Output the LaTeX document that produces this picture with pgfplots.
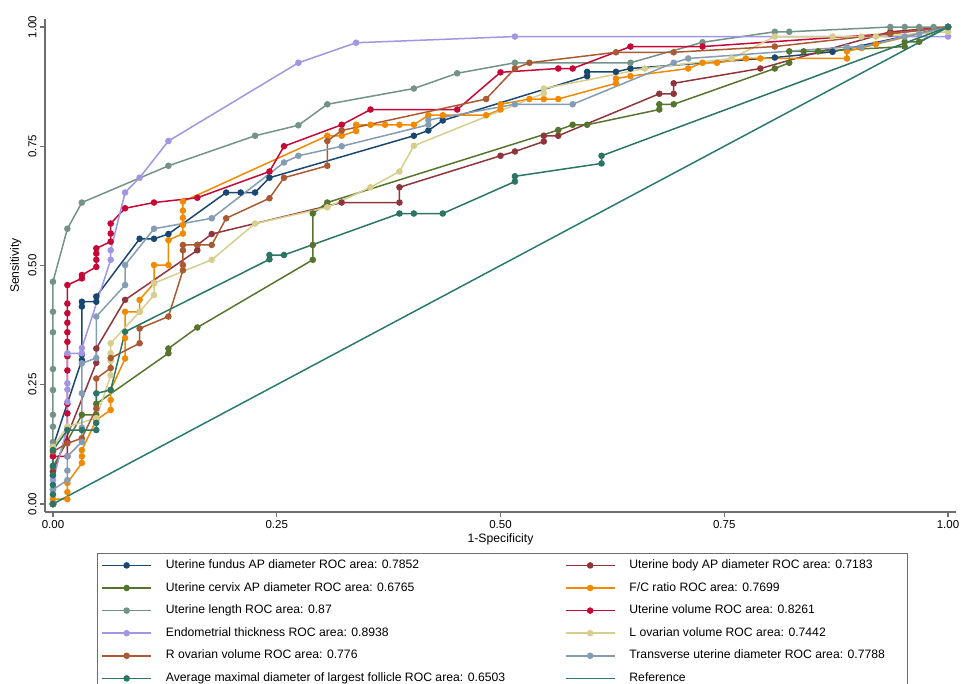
\documentclass[border=0pt]{standalone}
\usepackage{pgfplots}
\pgfplotsset{compat=1.18}
\usepackage{fontspec}
\setmainfont{Liberation Sans}
\definecolor{cnavy}{RGB}{26,71,111}
\definecolor{cmaroon}{RGB}{144,53,59}
\definecolor{cforest}{RGB}{85,117,47}
\definecolor{corange}{RGB}{240,138,0}
\definecolor{cteal}{RGB}{115,147,137}
\definecolor{ccran}{RGB}{198,8,55}
\definecolor{clav}{RGB}{160,150,225}
\definecolor{ckhaki}{RGB}{215,205,140}
\definecolor{csienna}{RGB}{170,90,50}
\definecolor{cemid}{RGB}{132,156,180}
\definecolor{cfoll}{RGB}{42,117,100}
\definecolor{cref}{RGB}{42,122,112}
\definecolor{caxis}{RGB}{110,110,110}
\pgfplotsset{
  rocs/.style={line width=1.5pt, color=#1, mark=*, mark size=2.5pt, mark options={solid, fill=#1, draw=#1}},
}
\begin{document}
\begin{tikzpicture}
\begin{axis}[
  at={(0pt,0pt)}, anchor=south west,
  scale only axis, width=911pt, height=493pt,
  xmin=-0.0089, xmax=1.0089, ymin=-0.0168, ymax=1.0168,
  axis x line*=bottom, axis y line*=left,
  axis line style={draw=caxis, line width=1.2pt, -},
  xtick={0,0.25,0.5,0.75,1}, ytick={0,0.25,0.5,0.75,1},
  tick align=outside, major tick length=5pt,
  tick style={draw=caxis, line width=1.2pt},
  /pgf/number format/assume math mode=true,
  xticklabel style={/pgf/number format/fixed, /pgf/number format/fixed zerofill, /pgf/number format/precision=2},
  yticklabel style={/pgf/number format/fixed, /pgf/number format/fixed zerofill, /pgf/number format/precision=2, rotate=90, anchor=south},
  tick label style={font=\fontsize{11.5}{13}\selectfont},
  label style={font=\fontsize{12.2}{14}\selectfont},
  xlabel={1-Specificity}, ylabel={Sensitivity},
  xlabel style={yshift=2pt},
  legend columns=2, legend cell align=left,
  legend style={at={(0.0571,-0.0832)}, anchor=north west, draw=caxis, line width=0.8pt,
    inner xsep=4pt, inner ysep=6pt, font=\fontsize{12.2}{14}\selectfont,
    column sep=14pt, row sep=10.6pt, nodes={inner sep=0pt, text height=9pt, text depth=3pt}},
  legend image code/.code={\draw[mark repeat=2,mark phase=2,#1] plot coordinates {(0pt,0pt) (24.5pt,0pt) (49pt,0pt)};},
]
% Uterine fundus AP
\addplot[rocs=cnavy] coordinates {(0,0) (0,0.12) (0.0323,0.302) (0.0323,0.313) (0.0323,0.414) (0.0323,0.424) (0.0484,0.424) (0.0484,0.435) (0.0968,0.556) (0.1129,0.556) (0.1290,0.566) (0.1935,0.653) (0.2097,0.653) (0.2258,0.653) (0.2419,0.684) (0.4032,0.772) (0.4194,0.783) (0.4355,0.804) (0.5968,0.897) (0.5968,0.906) (0.6290,0.906) (0.6452,0.913) (0.8065,0.936) (0.8710,0.948) (1,1)};
\addlegendentry{\makebox[385pt][l]{Uterine fundus AP diameter ROC area: 0.7852}}
% Uterine body AP
\addplot[rocs=cmaroon] coordinates {(0,0) (0,0.068) (0.0484,0.296) (0.0484,0.326) (0.0806,0.428) (0.1613,0.532) (0.1613,0.543) (0.1774,0.566) (0.3226,0.632) (0.3871,0.632) (0.3871,0.664) (0.5000,0.730) (0.5161,0.739) (0.5484,0.760) (0.5484,0.772) (0.5645,0.772) (0.6774,0.860) (0.6935,0.860) (0.6935,0.882) (0.7903,0.913) (0.9355,0.990) (1,1)};
\addlegendentry{\makebox[274pt][l]{Uterine body AP diameter ROC area: 0.7183}}
% Uterine cervix AP
\addplot[rocs=cforest] coordinates {(0,0) (0,0.078) (0.0323,0.187) (0.0484,0.187) (0.0484,0.210) (0.1290,0.316) (0.1290,0.326) (0.1613,0.370) (0.2903,0.512) (0.2903,0.543) (0.2903,0.609) (0.3065,0.632) (0.5645,0.784) (0.5806,0.795) (0.5968,0.795) (0.6774,0.827) (0.6774,0.838) (0.6935,0.838) (0.8065,0.913) (0.8226,0.925) (0.8226,0.949) (0.8387,0.949) (0.8548,0.949) (0.9516,0.959) (0.9516,0.969) (0.9677,0.969) (1,1)};
\addlegendentry{\makebox[385pt][l]{Uterine cervix AP diameter ROC area: 0.6765}}
% F/C ratio
\addplot[rocs=corange] coordinates {(0,0) (0,0.010) (0.0161,0.010) (0.0161,0.025) (0.0161,0.044) (0.0323,0.086) (0.0323,0.100) (0.0323,0.113) (0.0484,0.176) (0.0645,0.197) (0.0645,0.218) (0.0645,0.239) (0.0806,0.305) (0.0806,0.348) (0.0806,0.403) (0.0968,0.403) (0.0968,0.428) (0.1129,0.463) (0.1129,0.501) (0.1290,0.501) (0.1290,0.553) (0.1452,0.567) (0.1452,0.585) (0.1452,0.600) (0.1452,0.615) (0.1452,0.634) (0.3065,0.772) (0.3226,0.772) (0.3387,0.782) (0.3387,0.795) (0.3548,0.795) (0.3710,0.795) (0.3871,0.795) (0.4032,0.795) (0.4194,0.815) (0.4355,0.815) (0.4839,0.815) (0.5000,0.827) (0.5000,0.838) (0.5323,0.849) (0.5484,0.849) (0.5645,0.849) (0.6290,0.882) (0.6290,0.892) (0.6452,0.897) (0.7097,0.913) (0.7258,0.925) (0.7419,0.925) (0.7742,0.934) (0.7903,0.934) (0.8871,0.934) (0.8871,0.949) (0.9032,0.956) (0.9194,0.964) (1,1)};
\addlegendentry{\makebox[274pt][l]{F/C ratio ROC area: 0.7699}}
% Uterine length
\addplot[rocs=cteal] coordinates {(0,0) (0,0.03) (0,0.06) (0,0.10) (0,0.130) (0,0.162) (0,0.187) (0,0.239) (0,0.283) (0,0.360) (0,0.403) (0,0.466) (0.0161,0.577) (0.0323,0.632) (0.1290,0.709) (0.2258,0.772) (0.2742,0.794) (0.3065,0.838) (0.4032,0.871) (0.4516,0.903) (0.5161,0.925) (0.6452,0.925) (0.7258,0.968) (0.8065,0.990) (0.8226,0.990) (0.9355,1) (0.9516,1) (0.9677,1) (0.9839,1) (1,1)};
\addlegendentry{\makebox[385pt][l]{Uterine length ROC area: 0.87}}
% Uterine volume
\addplot[rocs=ccran] coordinates {(0,0) (0,0.10) (0.0161,0.10) (0.0161,0.13) (0.0161,0.16) (0.0161,0.19) (0.0161,0.21) (0.0161,0.28) (0.0161,0.31) (0.0161,0.34) (0.0161,0.36) (0.0161,0.38) (0.0161,0.40) (0.0161,0.42) (0.0161,0.459) (0.0323,0.473) (0.0323,0.480) (0.0484,0.497) (0.0484,0.512) (0.0484,0.525) (0.0484,0.536) (0.0645,0.550) (0.0645,0.567) (0.0645,0.588) (0.0806,0.620) (0.1129,0.632) (0.1613,0.642) (0.2419,0.697) (0.2581,0.750) (0.3226,0.795) (0.3548,0.827) (0.4516,0.827) (0.5000,0.905) (0.5645,0.913) (0.5806,0.913) (0.6452,0.959) (0.7258,0.959) (0.9355,0.986) (1,1)};
\addlegendentry{\makebox[274pt][l]{Uterine volume ROC area: 0.8261}}
% Endometrial thickness
\addplot[rocs=clav] coordinates {(0,0) (0,0.05) (0.0161,0.16) (0.0161,0.214) (0.0161,0.240) (0.0161,0.253) (0.0161,0.316) (0.0323,0.316) (0.0323,0.327) (0.0645,0.512) (0.0645,0.532) (0.0806,0.653) (0.0968,0.684) (0.1290,0.761) (0.2742,0.925) (0.3387,0.967) (0.5161,0.980) (1,0.980) (1,1)};
\addlegendentry{\makebox[385pt][l]{Endometrial thickness ROC area: 0.8938}}
% L ovarian volume
\addplot[rocs=ckhaki] coordinates {(0,0) (0,0.12) (0.0161,0.162) (0.0484,0.180) (0.0645,0.270) (0.0645,0.300) (0.0645,0.316) (0.0645,0.337) (0.0968,0.403) (0.1129,0.438) (0.1129,0.463) (0.1774,0.512) (0.2258,0.588) (0.3065,0.622) (0.3548,0.664) (0.3871,0.697) (0.4032,0.751) (0.5484,0.861) (0.5484,0.871) (0.6613,0.913) (0.7581,0.934) (0.8065,0.980) (0.8710,0.980) (0.9032,0.980) (0.9194,0.980) (1,0.990) (1,1)};
\addlegendentry{\makebox[274pt][l]{L ovarian volume ROC area: 0.7442}}
% R ovarian volume
\addplot[rocs=csienna] coordinates {(0,0) (0,0.110) (0.0161,0.127) (0.0323,0.138) (0.0484,0.200) (0.0484,0.263) (0.0645,0.285) (0.0645,0.306) (0.0968,0.337) (0.0968,0.368) (0.1290,0.393) (0.1452,0.490) (0.1452,0.501) (0.1452,0.532) (0.1452,0.543) (0.1613,0.543) (0.1774,0.543) (0.1935,0.599) (0.2419,0.641) (0.2581,0.684) (0.3065,0.709) (0.3065,0.761) (0.3226,0.783) (0.4839,0.849) (0.5161,0.913) (0.5323,0.925) (0.6290,0.947) (0.6935,0.947) (0.8065,0.959) (0.9355,0.986) (1,1)};
\addlegendentry{\makebox[385pt][l]{R ovarian volume ROC area: 0.776}}
% Transverse uterine diameter
\addplot[rocs=cemid] coordinates {(0,0) (0,0.030) (0.0161,0.050) (0.0161,0.070) (0.0161,0.100) (0.0323,0.130) (0.0323,0.160) (0.0323,0.232) (0.0323,0.295) (0.0484,0.306) (0.0484,0.393) (0.0806,0.459) (0.0806,0.501) (0.1129,0.577) (0.1774,0.599) (0.2581,0.716) (0.2742,0.730) (0.3226,0.750) (0.4194,0.795) (0.4194,0.805) (0.5161,0.838) (0.5806,0.838) (0.6935,0.925) (0.7097,0.934) (0.8871,0.958) (0.9032,0.958) (0.9516,0.980) (0.9677,0.986) (1,1)};
\addlegendentry{\makebox[274pt][l]{Transverse uterine diameter ROC area: 0.7788}}
% Average maximal diameter of largest follicle
\addplot[rocs=cfoll] coordinates {(0,0) (0,0.02) (0,0.04) (0,0.06) (0,0.08) (0,0.113) (0.0161,0.155) (0.0323,0.155) (0.0484,0.155) (0.0484,0.170) (0.0484,0.232) (0.0645,0.239) (0.0806,0.361) (0.2419,0.513) (0.2419,0.522) (0.2581,0.522) (0.3871,0.609) (0.4032,0.609) (0.4355,0.609) (0.5161,0.676) (0.5161,0.687) (0.6129,0.714) (0.6129,0.730) (1,1)};
\addlegendentry{\makebox[385pt][l]{Average maximal diameter of largest follicle ROC area: 0.6503}}
% Reference
\addplot[line width=1.5pt, color=cref, mark=none] coordinates {(0,0) (1,1)};
\addlegendentry{\makebox[274pt][l]{Reference}}
\end{axis}
\pgfresetboundingbox
\useasboundingbox (-45pt,-172pt) rectangle (917pt,512pt);
\end{tikzpicture}
\end{document}
